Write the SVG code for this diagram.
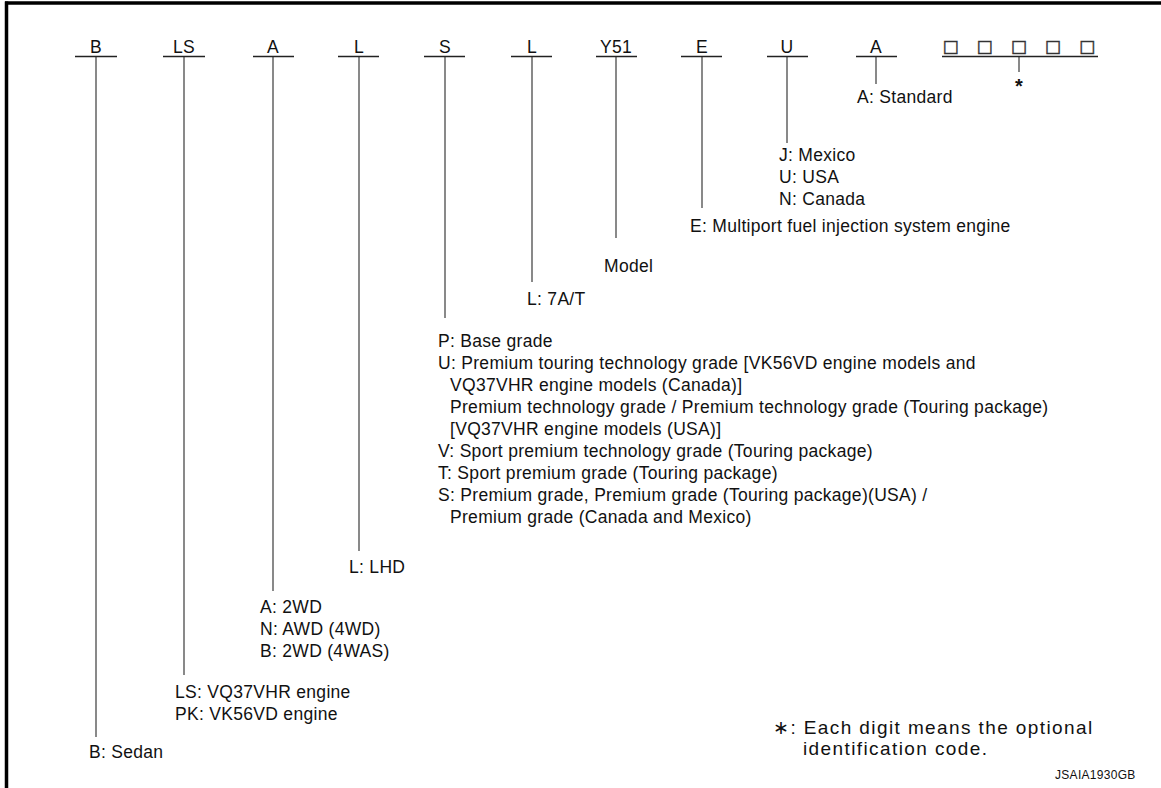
<svg xmlns="http://www.w3.org/2000/svg" width="1161" height="788" viewBox="0 0 1161 788">
<style>
text{font-family:"Liberation Sans",Arial,sans-serif;font-size:17.5px;fill:#111;letter-spacing:0.3px}
.c{text-anchor:middle}
.bar{stroke:#222;stroke-width:1.4;fill:none}
.ln{stroke:#4a4a4a;stroke-width:1.3;fill:none}
.sq{font-family:"DejaVu Sans",sans-serif;font-size:17px;letter-spacing:0;fill:#333;stroke:#333;stroke-width:0.45}
.fn{font-size:19px;letter-spacing:1.4px}
.id{font-size:12px;letter-spacing:0.3px}
</style>
<rect x="0" y="0" width="1161" height="788" fill="#fff"/>
<g id="frame">
<line x1="5" y1="3" x2="1161" y2="3" stroke="#000" stroke-width="3.5"/>
<line x1="6.5" y1="1.5" x2="6.5" y2="788" stroke="#000" stroke-width="3.5"/>
</g>
<g id="connectors">
<line class="ln" x1="96" y1="57" x2="96" y2="737"/>
<line class="ln" x1="184" y1="57" x2="184" y2="675"/>
<line class="ln" x1="273" y1="57" x2="273" y2="591"/>
<line class="ln" x1="359" y1="57" x2="359" y2="551"/>
<line class="ln" x1="445" y1="57" x2="445" y2="318"/>
<line class="ln" x1="532" y1="57" x2="532" y2="282"/>
<line class="ln" x1="616" y1="57" x2="616" y2="238"/>
<line class="ln" x1="702" y1="57" x2="702" y2="208"/>
<line class="ln" x1="787" y1="57" x2="787" y2="143"/>
<line class="ln" x1="876" y1="57" x2="876" y2="84"/>
<line class="ln" x1="1019" y1="57" x2="1019" y2="72"/>
</g>
<g id="code-B"><line class="bar" x1="75" y1="56.5" x2="117" y2="56.5"/><text class="c" x="96" y="53">B</text></g>
<g id="code-LS"><line class="bar" x1="163" y1="56.5" x2="205" y2="56.5"/><text class="c" x="184" y="53">LS</text></g>
<g id="code-A1"><line class="bar" x1="253" y1="56.5" x2="294" y2="56.5"/><text class="c" x="273" y="53">A</text></g>
<g id="code-L1"><line class="bar" x1="338" y1="56.5" x2="379" y2="56.5"/><text class="c" x="359" y="53">L</text></g>
<g id="code-S"><line class="bar" x1="424" y1="56.5" x2="465" y2="56.5"/><text class="c" x="445" y="53">S</text></g>
<g id="code-L2"><line class="bar" x1="511" y1="56.5" x2="552" y2="56.5"/><text class="c" x="532" y="53">L</text></g>
<g id="code-Y51"><line class="bar" x1="596" y1="56.5" x2="637" y2="56.5"/><text class="c" x="616" y="53">Y51</text></g>
<g id="code-E"><line class="bar" x1="681" y1="56.5" x2="722" y2="56.5"/><text class="c" x="702" y="53">E</text></g>
<g id="code-U"><line class="bar" x1="767" y1="56.5" x2="808" y2="56.5"/><text class="c" x="787" y="53">U</text></g>
<g id="code-A2"><line class="bar" x1="856" y1="56.5" x2="897" y2="56.5"/><text class="c" x="876" y="53">A</text></g>
<g id="code-opt"><line class="bar" x1="942" y1="56.5" x2="1098" y2="56.5"/>
<text class="c sq" x="950.5" y="52">□</text><text class="c sq" x="984.6" y="52">□</text><text class="c sq" x="1018.7" y="52">□</text><text class="c sq" x="1052.8" y="52">□</text><text class="c sq" x="1087" y="52">□</text>
<text class="c" x="1019" y="93" style="font-weight:bold;font-size:20px">*</text></g>
<g id="desc-A2"><text x="857" y="103">A: Standard</text></g>
<g id="desc-U"><text x="779" y="161">J: Mexico</text><text x="779" y="183">U: USA</text><text x="779" y="205">N: Canada</text></g>
<g id="desc-E"><text x="690" y="232">E: Multiport fuel injection system engine</text></g>
<g id="desc-Y51"><text x="604" y="272">Model</text></g>
<g id="desc-L2"><text x="527" y="305">L: 7A/T</text></g>
<g id="desc-S">
<text x="438" y="347">P: Base grade</text>
<text x="438" y="369">U: Premium touring technology grade [VK56VD engine models and</text>
<text x="450" y="391">VQ37VHR engine models (Canada)]</text>
<text x="450" y="413">Premium technology grade / Premium technology grade (Touring package)</text>
<text x="450" y="435">[VQ37VHR engine models (USA)]</text>
<text x="438" y="457">V: Sport premium technology grade (Touring package)</text>
<text x="438" y="479">T: Sport premium grade (Touring package)</text>
<text x="438" y="501">S: Premium grade, Premium grade (Touring package)(USA) /</text>
<text x="450" y="523">Premium grade (Canada and Mexico)</text>
</g>
<g id="desc-L1"><text x="349" y="573">L: LHD</text></g>
<g id="desc-A1"><text x="260" y="613">A: 2WD</text><text x="260" y="635">N: AWD (4WD)</text><text x="260" y="657">B: 2WD (4WAS)</text></g>
<g id="desc-LS"><text x="175" y="698">LS: VQ37VHR engine</text><text x="175" y="720">PK: VK56VD engine</text></g>
<g id="desc-B"><text x="89" y="758">B: Sedan</text></g>
<g id="footnote">
<text class="fn" x="773" y="734">∗: Each digit means the optional</text>
<text class="fn" x="803" y="755">identification code.</text>
<text class="id" x="1055" y="779">JSAIA1930GB</text>
</g>
</svg>
